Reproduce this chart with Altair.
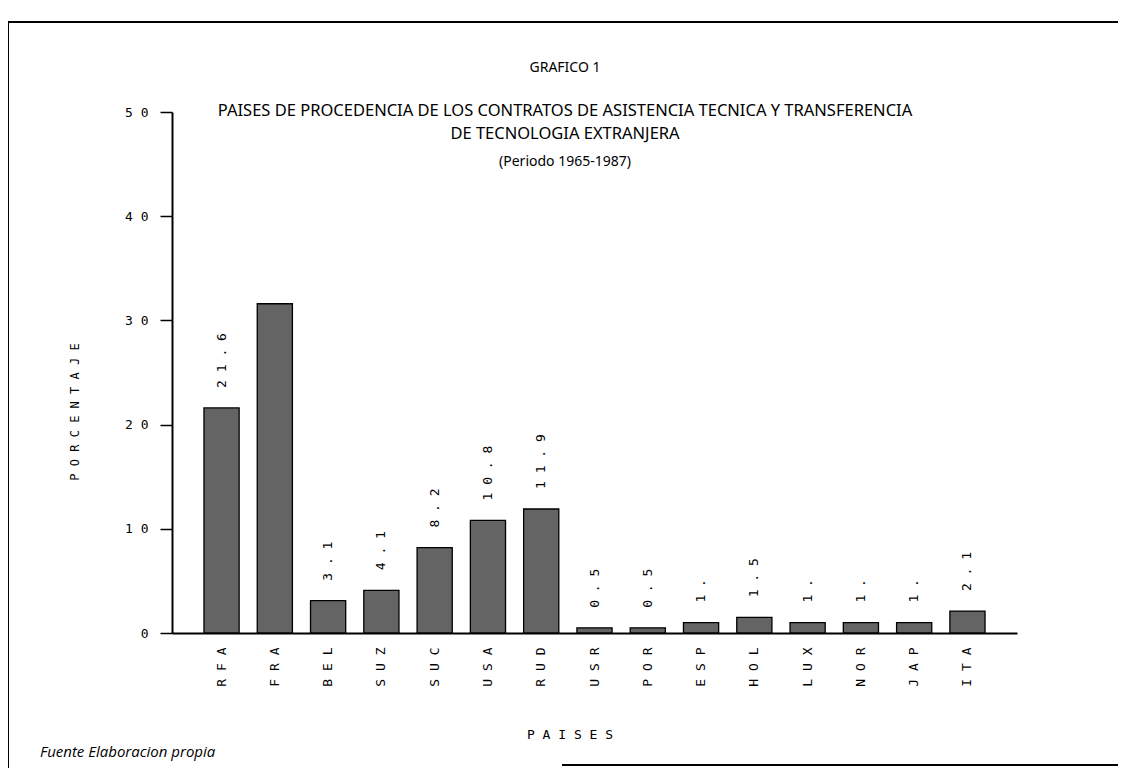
import altair as alt
import pandas as pd

# ---- data ----
paises = ["RFA", "FRA", "BEL", "SUZ", "SUC", "USA", "RUD", "USR",
          "POR", "ESP", "HOL", "LUX", "NOR", "JAP", "ITA"]
porcentaje = [21.6, 31.6, 3.1, 4.1, 8.2, 10.8, 11.9, 0.5,
              0.5, 1.0, 1.5, 1.0, 1.0, 1.0, 2.1]
etiquetas = ["21.6", "", "3.1", "4.1", "8.2", "10.8", "11.9", "0.5",
             "0.5", "1.", "1.5", "1.", "1.", "1.", "2.1"]
y_ticks = [0, 10, 20, 30, 40, 50]

grafico = "GRAFICO 1"
titulo_1 = "PAISES DE PROCEDENCIA DE LOS CONTRATOS DE ASISTENCIA TECNICA Y TRANSFERENCIA"
titulo_2 = "DE TECNOLOGIA EXTRANJERA"
periodo = "(Periodo 1965-1987)"
fuente = "Fuente  Elaboracion propia"
eje_x = "PAISES"
eje_y = "PORCENTAJE"

df = pd.DataFrame({"pais": paises, "valor": porcentaje, "etiqueta": etiquetas})

W, H = 845, 521
MONO = "DejaVu Sans Mono"
SANS = "Noto Sans"
SPACED = "join(split(datum.label, ''), ' ')"

xenc = alt.X(
    "pais:N", sort=paises,
    scale=alt.Scale(paddingInner=0.34, paddingOuter=0.6),
    axis=alt.Axis(
        labelAngle=270, labelExpr=SPACED, labelFont=MONO, labelFontSize=13,
        labelColor="black", labelPadding=14, ticks=False, tickSize=0,
        domainColor="black", domainWidth=2, title=None,
    ),
)
yenc = alt.Y(
    "valor:Q", scale=alt.Scale(domain=[0, 50]),
    axis=alt.Axis(
        values=y_ticks, labelExpr=SPACED, labelFont=MONO, labelFontSize=13,
        labelColor="black", labelPadding=12, tickSize=12, tickColor="black",
        tickWidth=1.5, domainColor="black", domainWidth=2, grid=False,
        title=None,
    ),
)

base = alt.Chart(df)
bars = base.mark_bar(color="#646464", stroke="black", strokeWidth=1.3).encode(
    x=xenc, y=yenc
)
labels = base.transform_calculate(
    txt="join(split(datum.etiqueta, ''), ' ')"
).mark_text(
    angle=270, align="left", baseline="middle", dx=20,
    font=MONO, fontSize=13, color="black",
).encode(x=alt.X("pais:N", sort=paises), y="valor:Q", text="txt:N")


def texto(s, x, y, size, style="normal", font=SANS, angle=0, spaced=False,
          align="center"):
    ch = alt.Chart(pd.DataFrame({"t": [s]}))
    if spaced:
        ch = ch.transform_calculate(t="join(split(datum.t, ''), ' ')")
    return ch.mark_text(
        font=font, fontSize=size, fontStyle=style, color="black",
        align=align, baseline="middle", angle=angle,
    ).encode(text="t:N", x=alt.value(x), y=alt.value(y))


textos = [
    texto(grafico, 393, -44, 14),
    texto(titulo_1, 393, -1, 16.5),
    texto(titulo_2, 393, 22, 16.5),
    texto(periodo, 393, 50, 14),
    texto(eje_y, -97, 300, 12, font=MONO, angle=270, spaced=True),
    texto(eje_x, 398, 623, 13, font=MONO, spaced=True),
    texto(fuente, -132, 640, 15, style="italic", font="Open Sans",
          align="left"),
]

d = pd.DataFrame({"k": [0]})
marco = [
    alt.Chart(d).mark_rule(color="black", strokeWidth=2).encode(
        x=alt.value(-164), x2=alt.value(950), y=alt.value(-90)),
    alt.Chart(d).mark_rule(color="black", strokeWidth=2).encode(
        x=alt.value(-164), y=alt.value(-90), y2=alt.value(660)),
    alt.Chart(d).mark_rule(color="black", strokeWidth=2).encode(
        x=alt.value(390), x2=alt.value(950), y=alt.value(653)),
]

chart = alt.layer(bars, labels, *textos, *marco).properties(
    width=W, height=H,
    autosize=alt.AutoSizeParams(type="none"),
    padding={"left": 164, "top": 104, "right": 101, "bottom": 135},
).configure(background="white").configure_view(strokeWidth=0)

chart.save("out.html", embed_options={"renderer": "svg", "actions": False})
